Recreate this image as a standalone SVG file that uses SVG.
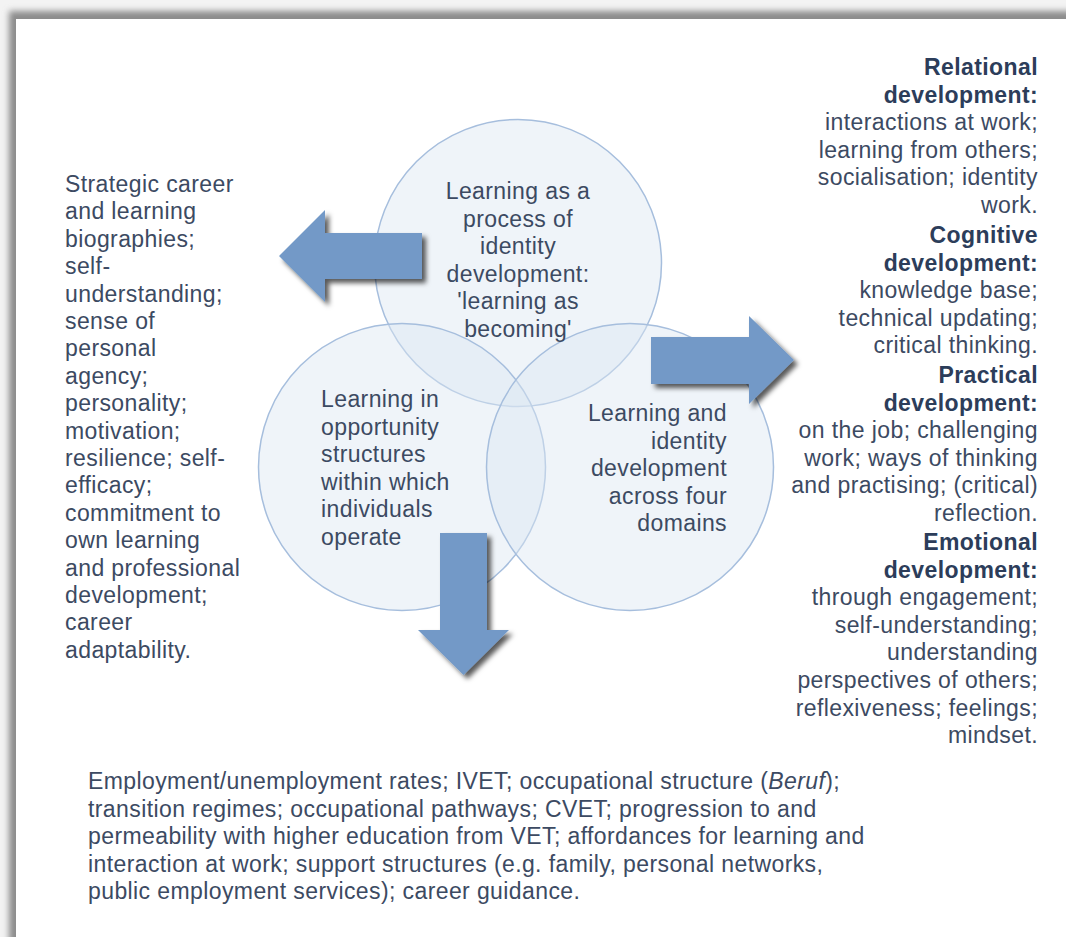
<svg xmlns="http://www.w3.org/2000/svg" width="1066" height="937" viewBox="0 0 1066 937">
<defs>
<filter id="frameShadow" x="-5%" y="-5%" width="110%" height="110%">
<feGaussianBlur stdDeviation="3"/>
</filter>
<filter id="arrowShadow" x="-30%" y="-30%" width="160%" height="160%">
<feGaussianBlur in="SourceAlpha" stdDeviation="2.5" result="b"/>
<feOffset in="b" dx="4" dy="4" result="o"/>
<feFlood flood-color="#000" flood-opacity="0.65"/>
<feComposite in2="o" operator="in" result="s"/>
<feMerge><feMergeNode in="s"/><feMergeNode in="SourceGraphic"/></feMerge>
</filter>
</defs>
<style>
.t{font-family:"Liberation Sans",Arial,sans-serif;font-size:23px;letter-spacing:0.4px;fill:#3c4a62}
.b{font-weight:bold;fill:#2c3d5a}
.e{text-anchor:end}
.m{text-anchor:middle}
.c{fill:#dce6f2;fill-opacity:0.45;stroke:#a6bedd;stroke-width:1.5}
.arrow{fill:#7399c7}
</style>
<rect x="0" y="0" width="1066" height="937" fill="#f3f3f3"/>
<rect x="9" y="11" width="1100" height="1000" fill="#8c8c8c" filter="url(#frameShadow)"/>
<rect x="16" y="19" width="1100" height="1000" fill="#ffffff"/>

<g id="circle-top">
<circle class="c" cx="518" cy="263" r="143.5"/>
</g>
<g id="circle-left">
<circle class="c" cx="402" cy="467" r="143.5"/>
</g>
<g id="circle-right">
<circle class="c" cx="630" cy="467" r="143.5"/>
</g>

<g id="connectors">
<polygon class="arrow" filter="url(#arrowShadow)" points="279,256 325,210 325,233 422,233 422,279 325,279 325,302"/>
<polygon class="arrow" filter="url(#arrowShadow)" points="651,337 749,337 749,316 794,360 749,404 749,384 651,384"/>
<polygon class="arrow" filter="url(#arrowShadow)" points="440,533 487,533 487,630 509,630 463.5,675 418,630 440,630"/>
</g>

<g id="text-top">
<text class="t m" x="518" y="199">Learning as a</text>
<text class="t m" x="518" y="226.6">process of</text>
<text class="t m" x="518" y="254.2">identity</text>
<text class="t m" x="518" y="281.8">development:</text>
<text class="t m" x="518" y="309.4">'learning as</text>
<text class="t m" x="518" y="337">becoming'</text>
</g>
<g id="text-left-circle">
<text class="t" x="321" y="407">Learning in</text>
<text class="t" x="321" y="434.6">opportunity</text>
<text class="t" x="321" y="462.2">structures</text>
<text class="t" x="321" y="489.8">within which</text>
<text class="t" x="321" y="517.4">individuals</text>
<text class="t" x="321" y="545">operate</text>
</g>
<g id="text-right-circle">
<text class="t e" x="727" y="421">Learning and</text>
<text class="t e" x="727" y="448.6">identity</text>
<text class="t e" x="727" y="476.2">development</text>
<text class="t e" x="727" y="503.8">across four</text>
<text class="t e" x="727" y="531.4">domains</text>
</g>

<g id="left-list">
<text class="t" x="65" y="192">Strategic career</text>
<text class="t" x="65" y="219.4">and learning</text>
<text class="t" x="65" y="246.8">biographies;</text>
<text class="t" x="65" y="274.2">self-</text>
<text class="t" x="65" y="301.6">understanding;</text>
<text class="t" x="65" y="329">sense of</text>
<text class="t" x="65" y="356.4">personal</text>
<text class="t" x="65" y="383.8">agency;</text>
<text class="t" x="65" y="411.2">personality;</text>
<text class="t" x="65" y="438.6">motivation;</text>
<text class="t" x="65" y="466">resilience; self-</text>
<text class="t" x="65" y="493.4">efficacy;</text>
<text class="t" x="65" y="520.8">commitment to</text>
<text class="t" x="65" y="548.2">own learning</text>
<text class="t" x="65" y="575.6">and professional</text>
<text class="t" x="65" y="603">development;</text>
<text class="t" x="65" y="630.4">career</text>
<text class="t" x="65" y="657.8">adaptability.</text>
</g>

<g id="right-list">
<text class="t b e" x="1038" y="75">Relational</text>
<text class="t b e" x="1038" y="102.6">development:</text>
<text class="t e" x="1038" y="130.2">interactions at work;</text>
<text class="t e" x="1038" y="157.8">learning from others;</text>
<text class="t e" x="1038" y="185.4">socialisation; identity</text>
<text class="t e" x="1038" y="213">work.</text>
<text class="t b e" x="1038" y="243">Cognitive</text>
<text class="t b e" x="1038" y="270.6">development:</text>
<text class="t e" x="1038" y="298.2">knowledge base;</text>
<text class="t e" x="1038" y="325.8">technical updating;</text>
<text class="t e" x="1038" y="353.4">critical thinking.</text>
<text class="t b e" x="1038" y="383">Practical</text>
<text class="t b e" x="1038" y="410.6">development:</text>
<text class="t e" x="1038" y="438.2">on the job; challenging</text>
<text class="t e" x="1038" y="465.8">work; ways of thinking</text>
<text class="t e" x="1038" y="493.4">and practising; (critical)</text>
<text class="t e" x="1038" y="521">reflection.</text>
<text class="t b e" x="1038" y="550">Emotional</text>
<text class="t b e" x="1038" y="577.6">development:</text>
<text class="t e" x="1038" y="605.2">through engagement;</text>
<text class="t e" x="1038" y="632.8">self-understanding;</text>
<text class="t e" x="1038" y="660.4">understanding</text>
<text class="t e" x="1038" y="688">perspectives of others;</text>
<text class="t e" x="1038" y="715.6">reflexiveness; feelings;</text>
<text class="t e" x="1038" y="743.2">mindset.</text>
</g>

<g id="bottom-list">
<text class="t" x="88" y="789">Employment/unemployment rates; IVET; occupational structure (<tspan font-style="italic">Beruf</tspan>);</text>
<text class="t" x="88" y="816.5">transition regimes; occupational pathways; CVET; progression to and</text>
<text class="t" x="88" y="844">permeability with higher education from VET; affordances for learning and</text>
<text class="t" x="88" y="871.5">interaction at work; support structures (e.g. family, personal networks,</text>
<text class="t" x="88" y="899">public employment services); career guidance.</text>
</g>
</svg>
